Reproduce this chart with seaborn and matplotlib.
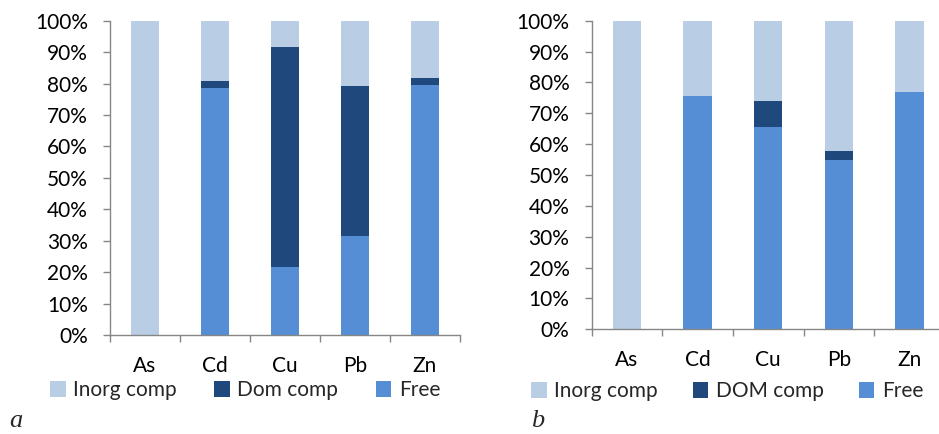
import numpy as np
import pandas as pd
import seaborn as sns
import matplotlib.pyplot as plt
from matplotlib.ticker import FixedLocator, PercentFormatter

# Metal speciation: share of each form (%)
metals = ["As", "Cd", "Cu", "Pb", "Zn"]

free_a = [0.0, 78.5, 21.6, 31.5, 79.4]
dom_a = [0.0, 2.4, 69.9, 47.6, 2.4]
inorg_a = [100.0, 19.1, 8.5, 20.9, 18.2]

free_b = [0.0, 75.6, 65.5, 54.9, 76.9]
dom_b = [0.0, 0.0, 8.4, 2.9, 0.0]
inorg_b = [100.0, 24.4, 26.1, 42.2, 23.1]

legend_a = ["Inorg comp", "Dom comp", "Free"]
legend_b = ["Inorg comp", "DOM comp", "Free"]
y_ticks = [0, 10, 20, 30, 40, 50, 60, 70, 80, 90, 100]

c_inorg = "#B9CDE5"
c_dom = "#1F497D"
c_free = "#558ED5"
axis_gray = "#868686"

sns.set_theme(style="white")
plt.rcParams["font.family"] = ["Lato", "DejaVu Sans"]
FS = 15

W, H = 939, 434
fig = plt.figure(figsize=(W / 100, H / 100), dpi=100)


def panel(rect, free, dom, inorg, labels, legend_box, letter_xy, letter):
    ax = fig.add_axes(rect)
    free = np.asarray(free)
    dom = np.asarray(dom)
    inorg = np.asarray(inorg)
    df = pd.DataFrame({
        "metal": metals,
        "top_inorg": free + dom + inorg,
        "top_dom": free + dom,
        "top_free": free,
    })
    # stacked columns: draw cumulative totals back to front
    layers = [("top_inorg", c_inorg, labels[0]),
              ("top_dom", c_dom, labels[1]),
              ("top_free", c_free, labels[2])]
    for col, colr, lab in layers:
        sns.barplot(data=df, x="metal", y=col, color=colr, saturation=1,
                    width=0.4, ax=ax, label=lab, linewidth=0)
    ax.set_xlim(-0.5, len(metals) - 0.5)
    ax.set_ylim(0, 100)
    ax.set_xlabel("")
    ax.set_ylabel("")
    ax.yaxis.set_major_locator(FixedLocator(y_ticks))
    ax.yaxis.set_major_formatter(PercentFormatter(decimals=0))
    ax.xaxis.set_minor_locator(FixedLocator(np.arange(-0.5, len(metals), 1.0)))
    ax.tick_params(axis="x", which="major", length=0, pad=15, labelsize=FS,
                   labelcolor="black")
    ax.tick_params(axis="x", which="minor", length=5, width=1.0,
                   color=axis_gray, direction="out", bottom=True)
    ax.tick_params(axis="y", which="major", length=5, width=1.0,
                   color=axis_gray, direction="out", left=True, pad=11,
                   labelsize=FS, labelcolor="black")
    for s in ["top", "right"]:
        ax.spines[s].set_visible(False)
    for s in ["left", "bottom"]:
        ax.spines[s].set_color(axis_gray)
        ax.spines[s].set_linewidth(1.0)
    ax.legend(loc="lower left", bbox_to_anchor=legend_box,
              bbox_transform=fig.transFigure, mode="expand", ncol=3,
              frameon=False, fontsize=FS, handlelength=0.75,
              handleheight=0.8, handletextpad=0.35, borderaxespad=0,
              borderpad=0)
    fig.text(letter_xy[0] / W, 1 - letter_xy[1] / H, letter,
             family=["Liberation Serif"], style="italic", fontsize=19,
             ha="left", va="baseline")
    return ax


panel([110 / W, 1 - 335 / H, 350 / W, 314.3 / H], free_a, dom_a, inorg_a,
      legend_a, (50 / W, 1 - 400 / H, 390 / W, 20 / H), (9, 427), "a")
panel([591.7 / W, 1 - 329.3 / H, 353 / W, 308.6 / H], free_b, dom_b, inorg_b,
      legend_b, (531 / W, 1 - 401 / H, 392 / W, 20 / H), (531, 427), "b")

fig.savefig("out.png", dpi=100)
